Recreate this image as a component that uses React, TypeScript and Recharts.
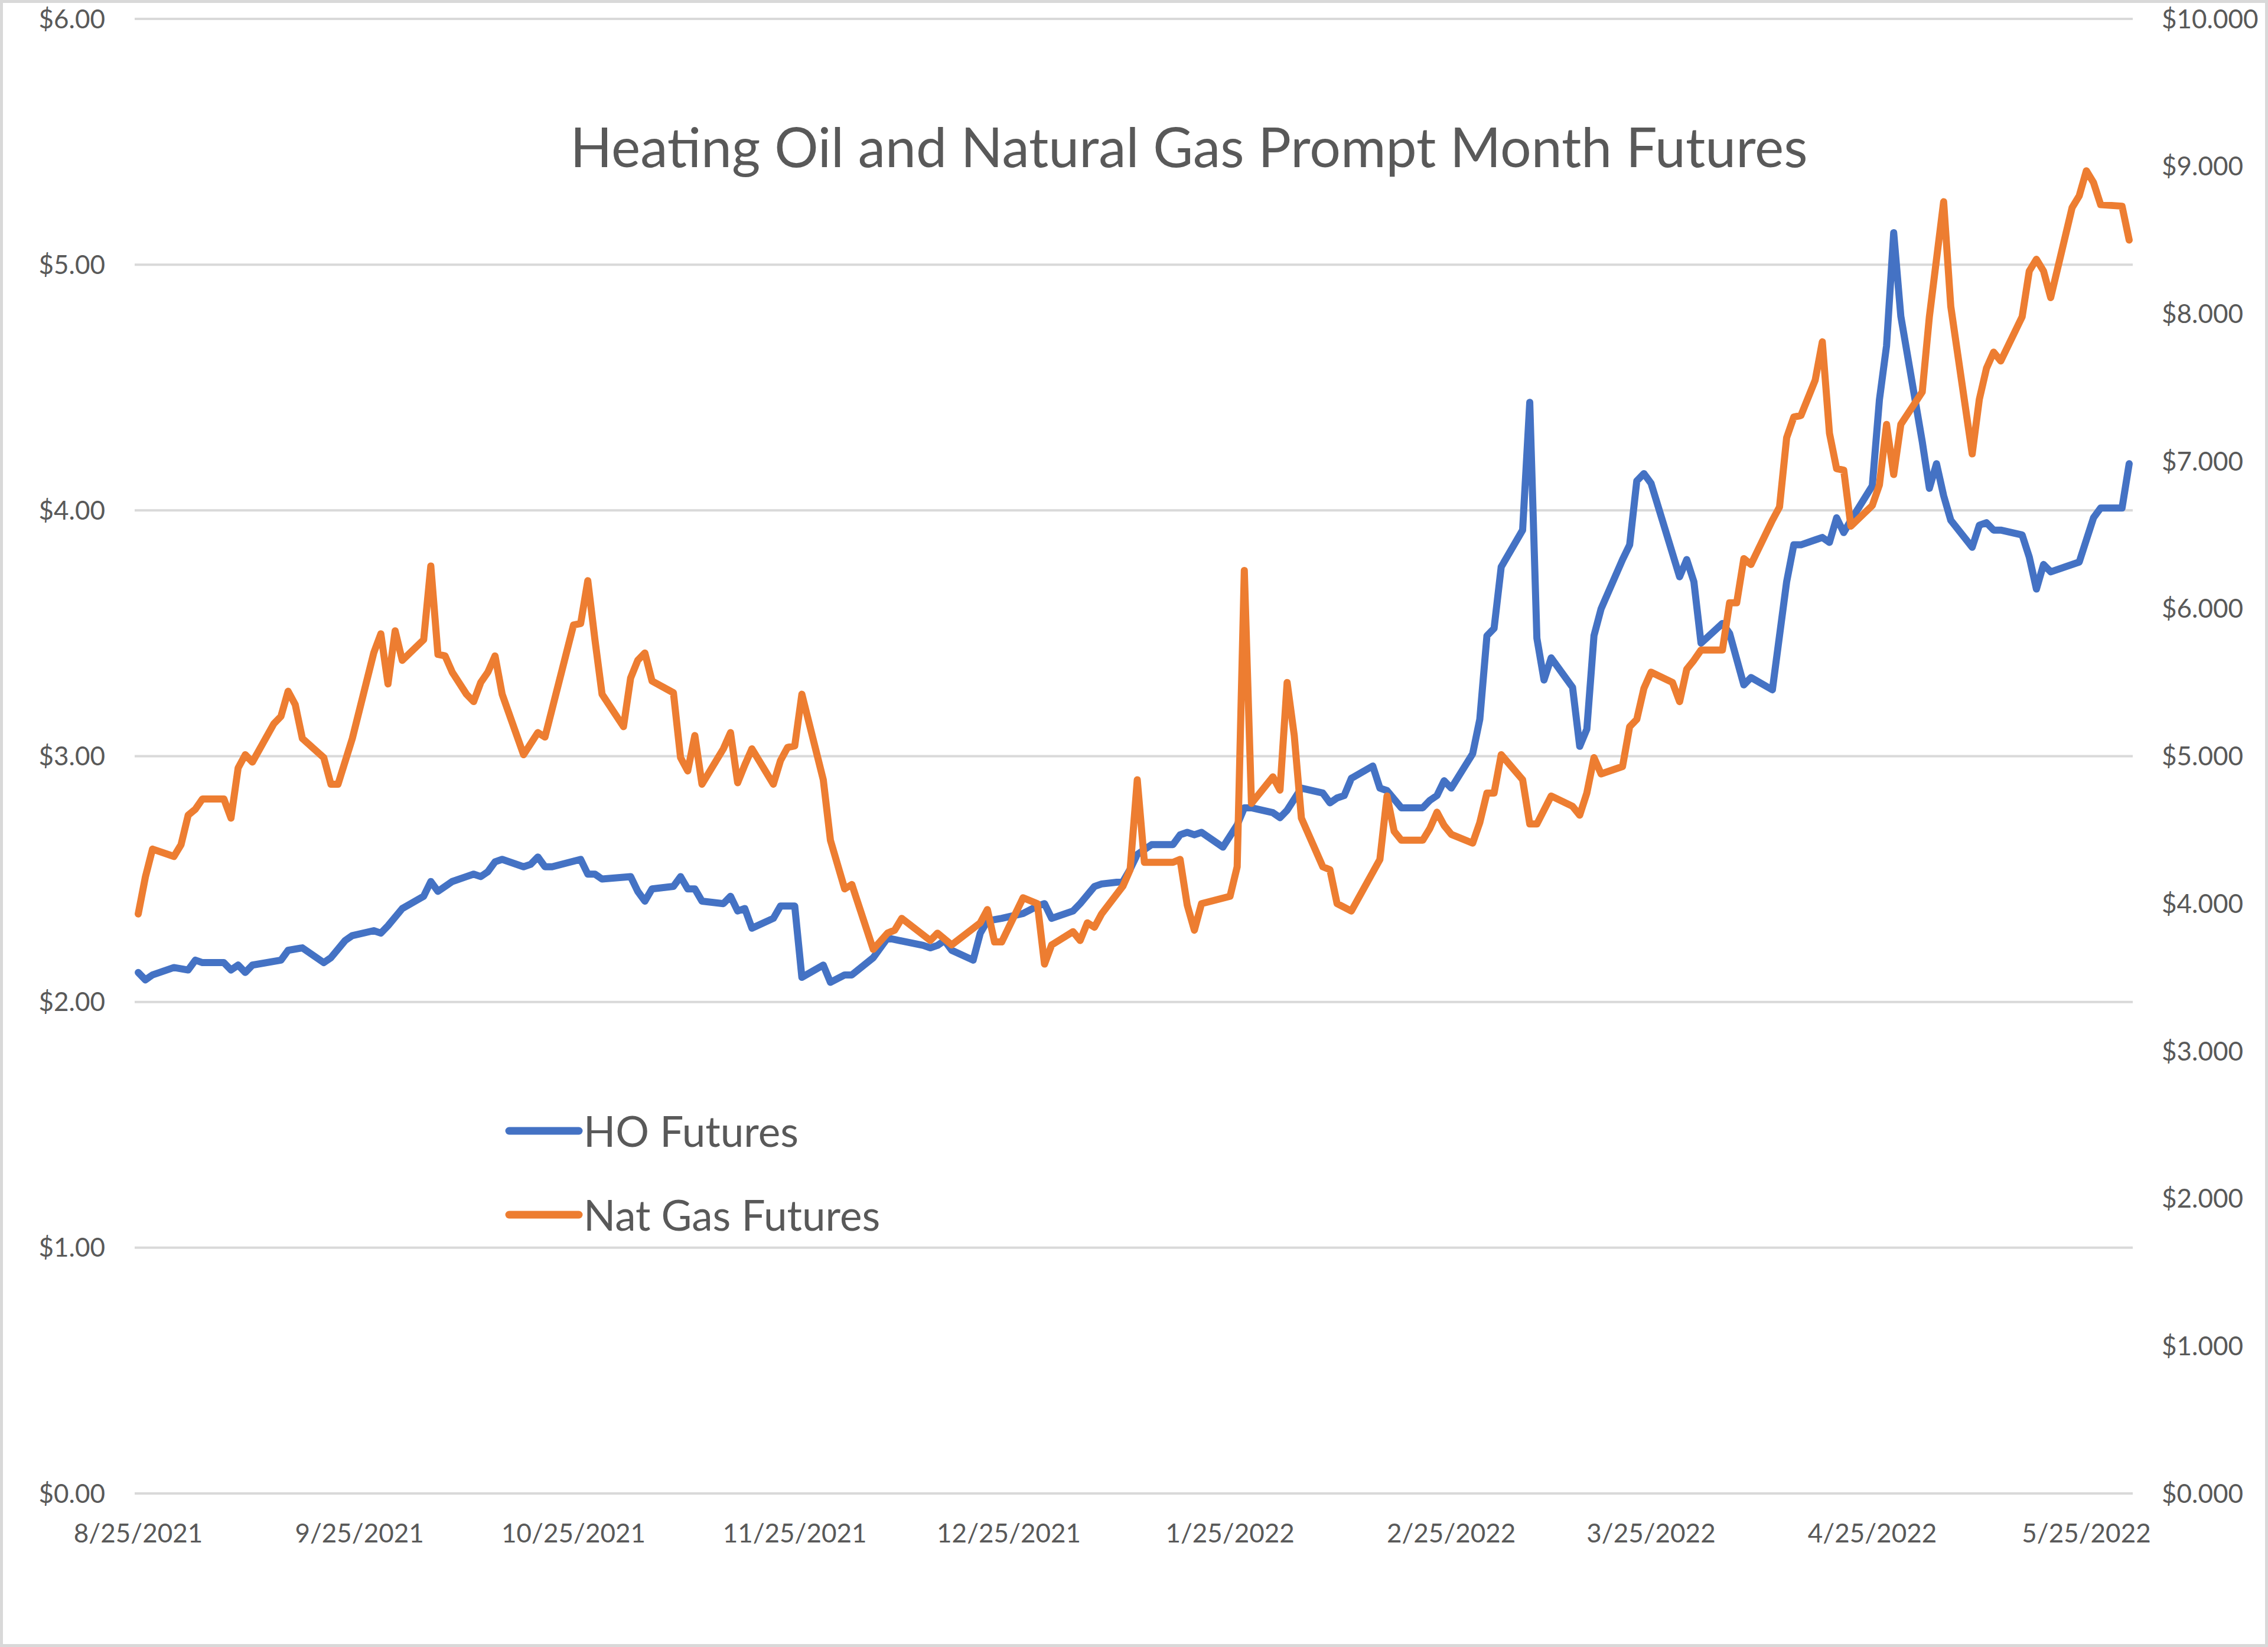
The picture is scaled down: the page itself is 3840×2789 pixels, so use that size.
import React from 'react';
import { LineChart, Line, XAxis, YAxis, CartesianGrid, Legend } from 'recharts';

// day offsets counted from 8/25/2021
const hoDays = [
  0, 1, 2, 5, 7, 8, 9, 12, 13, 14, 15, 16, 20, 21, 23, 26, 27, 29, 30, 33, 34, 35, 37, 40, 41, 42, 44,
  46, 47, 48, 49, 50, 51, 54, 55, 56, 57, 58, 62, 63, 64, 65, 69, 70, 71, 72, 75, 76, 77, 78, 79, 82, 83,
  84, 85, 86, 89, 90, 92, 93, 96, 97, 99, 100, 103, 105, 110, 111, 112, 113, 114, 117, 118, 119, 121,
  124, 126, 127, 128, 131, 132, 134, 135, 138, 139, 140, 142, 145, 146, 147, 148, 149, 152, 154, 155,
  156, 159, 160, 161, 163, 166, 167, 168, 169, 170, 173, 174, 175, 177, 180, 181, 182, 183, 184, 187,
  188, 189, 190, 191, 194, 195, 196, 197, 198, 201, 202, 203, 204, 205, 208, 209, 210, 211, 212, 216,
  217, 218, 219, 222, 223, 225, 226, 229, 230, 231, 232, 233, 235, 236, 237, 238, 239, 240, 243, 244,
  245, 246, 247, 249, 250, 251, 252, 253, 254, 257, 258, 259, 260, 261, 264, 265, 266, 267, 268, 272,
  273, 274, 275, 278, 279,
];
const hoPrices = [
  2.12, 2.09, 2.11, 2.14, 2.13, 2.17, 2.16, 2.16, 2.13, 2.15, 2.12, 2.15, 2.17, 2.21, 2.22, 2.16, 2.18,
  2.25, 2.27, 2.29, 2.28, 2.31, 2.38, 2.43, 2.49, 2.45, 2.49,
  2.51, 2.52, 2.51, 2.53, 2.57, 2.58, 2.55, 2.56, 2.59, 2.55, 2.55, 2.58, 2.52, 2.52, 2.5, 2.51, 2.45,
  2.41, 2.46, 2.47, 2.51, 2.46, 2.46, 2.41, 2.4, 2.43,
  2.37, 2.38, 2.3, 2.34, 2.39, 2.39, 2.1, 2.15, 2.08, 2.11, 2.11, 2.18, 2.26, 2.23, 2.22, 2.23, 2.25,
  2.21, 2.17, 2.28, 2.33, 2.34,
  2.36, 2.39, 2.4, 2.34, 2.37, 2.4, 2.47, 2.48, 2.49, 2.54, 2.6, 2.64, 2.64, 2.68, 2.69, 2.68, 2.69,
  2.63, 2.72, 2.79,
  2.79, 2.77, 2.75, 2.78, 2.87, 2.85, 2.81, 2.83, 2.84, 2.91, 2.96, 2.87, 2.86, 2.79, 2.79, 2.82, 2.84,
  2.9, 2.87, 3.01,
  3.15, 3.49, 3.52, 3.77, 3.92, 4.44, 3.48, 3.31, 3.4, 3.28, 3.04, 3.11, 3.49, 3.6, 3.8, 3.86, 4.12,
  4.15, 4.11, 3.73,
  3.8, 3.71, 3.46, 3.54, 3.5, 3.29, 3.32, 3.27, 3.49, 3.71, 3.86, 3.86, 3.88, 3.89, 3.87, 3.97, 3.91,
  3.96, 4.1, 4.45,
  4.67, 5.13, 4.79, 4.45, 4.28, 4.09, 4.19, 4.06, 3.96, 3.85, 3.94, 3.95, 3.92, 3.92, 3.9, 3.81, 3.68,
  3.78, 3.75, 3.79,
  3.88, 3.97, 4.01, 4.01, 4.19,
];

const ngDays = [
  0, 1, 2, 5, 6, 7, 8, 9, 12, 13, 14, 15, 16, 19, 20, 21, 22, 23, 26, 27, 28, 30, 33, 34, 35, 36, 37, 40,
  41, 42, 43, 44, 46, 47, 48, 49, 50, 51, 54, 56, 57, 61, 62, 63, 64, 65, 68, 69, 70, 71, 72, 75, 76, 77,
  78, 79, 82, 83, 84, 85, 86, 89, 90, 91, 92, 93, 96, 97, 99, 100, 103, 105, 106, 107, 111, 112, 114,
  118, 119, 120, 121, 124, 126, 127, 128, 131, 132, 133, 134, 135, 138, 139, 140, 141, 145, 146, 147,
  148, 149, 153, 154, 155, 156, 159, 160, 161, 162, 163, 166, 167, 168, 170, 174, 175, 176, 177, 180,
  181, 182, 183, 184, 187, 188, 189, 190, 191, 194, 195, 196, 198, 201, 202, 203, 204, 205, 208, 209,
  210, 211, 212, 215, 216, 217, 218, 219, 222, 223, 224, 225, 226, 229, 230, 231, 232, 233, 235, 236,
  237, 238, 239, 240, 243, 244, 245, 246, 247, 250, 251, 253, 254, 257, 258, 259, 260, 261, 264, 265,
  266, 267, 268, 271, 272, 273, 274, 275, 278, 279,
];
const ngPrices = [
  3.93, 4.18, 4.37, 4.32, 4.4, 4.6, 4.64, 4.71, 4.71, 4.58, 4.92, 5.01, 4.96, 5.22, 5.27, 5.44, 5.35,
  5.12, 4.99, 4.81, 4.81, 5.12, 5.7, 5.83, 5.49, 5.85, 5.65, 5.79,
  6.29, 5.69, 5.68, 5.57, 5.42, 5.37, 5.5, 5.57, 5.68, 5.42, 5.01, 5.16, 5.13, 5.89, 5.9, 6.19, 5.79,
  5.42, 5.2, 5.53, 5.65, 5.7, 5.51, 5.43, 4.99, 4.9,
  5.14, 4.81, 5.05, 5.16, 4.82, 4.94, 5.05, 4.81, 4.97, 5.06, 5.07, 5.42, 4.84, 4.43, 4.1, 4.13, 3.69,
  3.8, 3.82, 3.9, 3.75, 3.8, 3.72,
  3.87, 3.96, 3.74, 3.74, 4.04, 4.0, 3.59, 3.72, 3.81, 3.75, 3.87, 3.84, 3.93, 4.12, 4.23, 4.84, 4.28,
  4.28, 4.3, 3.99,
  3.82, 4.0, 4.05, 4.25, 6.26, 4.68, 4.86, 4.77, 5.5, 5.14, 4.58, 4.25, 4.23, 4.0, 3.95, 4.3, 4.73,
  4.49, 4.43, 4.43,
  4.51, 4.62, 4.53, 4.47, 4.41, 4.55, 4.75, 4.75, 5.01, 4.84, 4.54, 4.54, 4.73, 4.66, 4.6, 4.75, 4.99,
  4.88, 4.93, 5.2,
  5.25, 5.46, 5.57, 5.5, 5.37, 5.59, 5.65, 5.72, 5.72, 6.04, 6.04, 6.34, 6.3, 6.6, 6.69, 7.16, 7.3,
  7.31, 7.55, 7.81,
  7.19, 6.95, 6.94, 6.56, 6.7, 6.84, 7.25, 6.91, 7.25, 7.47, 7.98, 8.76, 8.05, 7.05, 7.42, 7.63, 7.74,
  7.68, 7.98, 8.29,
  8.37, 8.29, 8.11, 8.72, 8.8, 8.97, 8.89, 8.74, 8.73, 8.5,
];

// 25th of each month, as day offsets
const xTicks = [0, 31, 61, 92, 122, 153, 184, 212, 243, 273];
const leftTicks = [0, 1, 2, 3, 4, 5, 6];
const rightTicks = [0, 1, 2, 3, 4, 5, 6, 7, 8, 9, 10];

const hoData = hoDays.map((day, i) => ({ day, price: hoPrices[i] }));
const ngData = ngDays.map((day, i) => ({ day, price: ngPrices[i] }));

const START = Date.UTC(2021, 7, 25);
const formatDay = (d: number) => {
  const dt = new Date(START + Math.round(d) * 86400000);
  return `${dt.getUTCMonth() + 1}/${dt.getUTCDate()}/${dt.getUTCFullYear()}`;
};

const TEXT = '#595959';
const FONT = 'Lato, "Open Sans", sans-serif';

const LegendBox = ({ payload }: any) => (
  <div style={{ fontFamily: FONT, color: TEXT }}>
    {(payload || []).map((entry: any) => (
      <div key={entry.value} style={{ display: 'flex', alignItems: 'center', height: 142 }}>
        <svg width={132} height={20} style={{ display: 'block' }}>
          <line x1={7} y1={10} x2={125} y2={10} stroke={entry.color} strokeWidth={13} strokeLinecap="round" />
        </svg>
        <span style={{ fontSize: 71, marginLeft: 1, whiteSpace: 'nowrap', lineHeight: 1.2 }}>{entry.value}</span>
      </div>
    ))}
  </div>
);

export default function App() {
  return (
    <div style={{ position: 'absolute', left: 0, top: 0, width: 3840, height: 2789, background: '#fff' }}>
      <LineChart width={3840} height={2789} margin={{ top: 32, right: 0, bottom: 0, left: 0 }}>
        <CartesianGrid yAxisId="left" vertical={false} stroke="#d9d9d9" strokeWidth={4} />
        <XAxis
          dataKey="day"
          type="number"
          domain={[-0.5, 279.5]}
          ticks={xTicks}
          interval={0}
          tickFormatter={formatDay}
          axisLine={false}
          tickLine={false}
          tickSize={0}
          tickMargin={52}
          height={260}
          tick={{ fill: TEXT, fontSize: 44, fontFamily: FONT }}
        />
        <YAxis
          yAxisId="left"
          domain={[0, 6]}
          ticks={leftTicks}
          tickFormatter={(v) => `$${v.toFixed(2)}`}
          axisLine={false}
          tickLine={false}
          tickSize={0}
          tickMargin={50}
          width={228}
          tick={{ fill: TEXT, fontSize: 44, fontFamily: FONT }}
        />
        <YAxis
          yAxisId="right"
          orientation="right"
          domain={[0, 10]}
          ticks={rightTicks}
          tickFormatter={(v) => `$${v.toFixed(3)}`}
          axisLine={false}
          tickLine={false}
          tickSize={0}
          tickMargin={49}
          width={229}
          tick={{ fill: TEXT, fontSize: 44, fontFamily: FONT, textAnchor: 'start' }}
        />
        <Legend
          layout="vertical"
          align="center"
          verticalAlign="middle"
          content={<LegendBox />}
          wrapperStyle={{ left: 855, top: 1844, width: 800, height: 284 }}
        />
        <Line
          yAxisId="left"
          data={hoData}
          dataKey="price"
          name="HO Futures"
          type="linear"
          stroke="#4472c4"
          strokeWidth={12}
          strokeLinejoin="round"
          strokeLinecap="round"
          dot={false}
          activeDot={false}
          isAnimationActive={false}
        />
        <Line
          yAxisId="right"
          data={ngData}
          dataKey="price"
          name="Nat Gas Futures"
          type="linear"
          stroke="#ed7d31"
          strokeWidth={12}
          strokeLinejoin="round"
          strokeLinecap="round"
          dot={false}
          activeDot={false}
          isAnimationActive={false}
        />
      </LineChart>
      <div
        style={{
          position: 'absolute',
          left: 513,
          top: 192,
          width: 3000,
          textAlign: 'center',
          fontFamily: FONT,
          fontSize: 93,
          lineHeight: 1.2,
          color: TEXT,
          whiteSpace: 'nowrap',
        }}
      >
        Heating Oil and Natural Gas Prompt Month Futures
      </div>
      <div
        style={{
          position: 'absolute',
          left: 0,
          top: 0,
          width: 3840,
          height: 2789,
          boxSizing: 'border-box',
          border: '5px solid #d9d9d9',
          pointerEvents: 'none',
        }}
      />
    </div>
  );
}
